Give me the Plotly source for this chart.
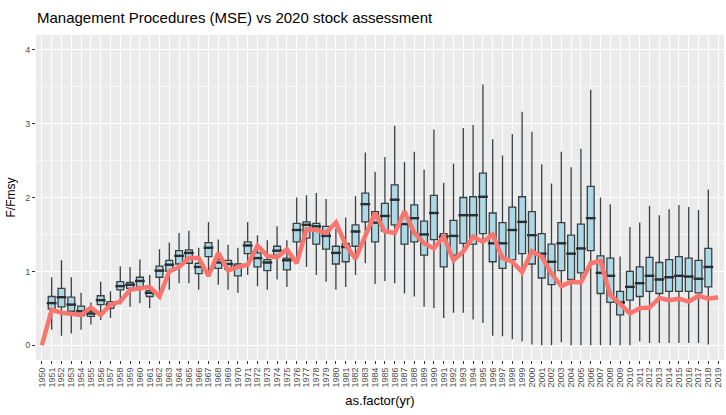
import plotly.graph_objects as go

# ---- data ----
years_all = [str(y) for y in range(1950, 2020)]
box_years = [str(y) for y in range(1951, 2019)]

lower = [0.21, 0.13, 0.16, 0.21, 0.28, 0.34, 0.37, 0.55, 0.52, 0.57,
         0.50, 0.68, 0.75, 0.84, 0.84, 0.75, 0.93, 0.82, 0.75, 0.71,
         0.95, 0.80, 0.75, 0.89, 0.79, 1.13, 1.06, 0.95, 0.86, 0.75,
         0.79, 0.95, 1.11, 0.83, 0.87, 0.84, 0.70, 0.66, 0.52, 0.50,
         0.37, 0.44, 0.44, 0.35, 0.30, 0.13, 0.12, 0.08, 0.05, 0.01,
         0.00, 0.00, 0.04, 0.00, 0.00, 0.00, 0.00, 0.00, 0.00, 0.00,
         0.05, 0.03, 0.03, 0.03, 0.03, 0.03, 0.03, 0.01]
q1 = [0.49, 0.52, 0.46, 0.40, 0.39, 0.55, 0.50, 0.75, 0.77, 0.79,
      0.66, 0.92, 1.00, 1.10, 1.11, 0.97, 1.20, 1.04, 1.03, 0.94,
      1.24, 1.06, 1.01, 1.22, 1.02, 1.40, 1.45, 1.37, 1.30, 1.10,
      1.13, 1.34, 1.67, 1.40, 1.55, 1.63, 1.37, 1.40, 1.22, 1.43,
      1.06, 1.22, 1.38, 1.37, 1.51, 1.13, 1.04, 1.16, 1.24, 1.10,
      0.91, 0.82, 1.01, 0.89, 0.98, 1.28, 0.70, 0.58, 0.41, 0.61,
      0.66, 0.73, 0.70, 0.73, 0.73, 0.73, 0.71, 0.79]
median = [0.57, 0.65, 0.55, 0.46, 0.43, 0.61, 0.55, 0.80, 0.82, 0.87,
          0.71, 1.01, 1.09, 1.21, 1.25, 1.06, 1.32, 1.12, 1.10, 1.07,
          1.35, 1.18, 1.12, 1.28, 1.15, 1.56, 1.63, 1.61, 1.48, 1.25,
          1.33, 1.54, 1.91, 1.66, 1.75, 1.97, 1.64, 1.72, 1.50, 1.79,
          1.47, 1.48, 1.76, 1.76, 2.01, 1.38, 1.38, 1.56, 1.67, 1.49,
          1.24, 1.13, 1.38, 1.24, 1.31, 1.72, 0.98, 0.94, 0.58, 0.79,
          0.84, 0.94, 0.89, 0.92, 0.94, 0.93, 0.90, 1.06]
q3 = [0.66, 0.77, 0.65, 0.53, 0.46, 0.67, 0.59, 0.86, 0.85, 0.92,
      0.74, 1.07, 1.15, 1.28, 1.29, 1.11, 1.39, 1.16, 1.15, 1.10,
      1.40, 1.25, 1.16, 1.34, 1.18, 1.65, 1.67, 1.65, 1.61, 1.34,
      1.38, 1.63, 2.06, 1.81, 1.92, 2.17, 1.74, 1.90, 1.68, 2.03,
      1.51, 1.69, 2.00, 2.01, 2.33, 1.79, 1.66, 1.87, 2.01, 1.81,
      1.51, 1.37, 1.66, 1.49, 1.64, 2.15, 1.21, 1.18, 0.73, 1.00,
      1.06, 1.19, 1.12, 1.16, 1.20, 1.18, 1.15, 1.31]
upper = [0.92, 1.15, 0.92, 0.71, 0.58, 0.86, 0.73, 1.07, 1.06, 1.16,
         0.95, 1.30, 1.39, 1.52, 1.55, 1.32, 1.67, 1.43, 1.36, 1.32,
         1.67, 1.49, 1.42, 1.61, 1.42, 2.00, 2.03, 2.06, 1.98, 1.58,
         1.73, 2.02, 2.61, 2.35, 2.55, 2.97, 2.48, 2.62, 2.38, 2.92,
         2.20, 2.46, 2.94, 2.98, 3.53, 2.79, 2.57, 2.86, 3.16, 2.89,
         2.45, 2.19, 2.62, 2.41, 2.66, 3.46, 2.00, 1.91, 1.20, 1.60,
         1.66, 1.89, 1.76, 1.84, 1.90, 1.87, 1.83, 2.11]

assessment = [0.00, 0.48, 0.44, 0.42, 0.41, 0.51, 0.41, 0.55, 0.59, 0.75,
              0.77, 0.79, 0.66, 1.00, 1.06, 1.18, 1.18, 0.94, 1.25, 1.01,
              1.06, 1.09, 1.35, 1.21, 1.19, 1.30, 1.11, 1.57, 1.56, 1.52,
              1.66, 1.36, 1.17, 1.47, 1.79, 1.54, 1.52, 1.81, 1.52, 1.38,
              1.31, 1.47, 1.15, 1.27, 1.47, 1.40, 1.50, 1.18, 1.13, 0.99,
              1.27, 1.20, 0.97, 0.80, 0.86, 0.85, 1.11, 1.14, 0.68, 0.56,
              0.43, 0.50, 0.51, 0.64, 0.61, 0.63, 0.59, 0.67, 0.63, 0.65]

y_ticks = [0, 1, 2, 3, 4]

FONT = "Liberation Sans, Arial, sans-serif"

fig = go.Figure()

fig.add_trace(go.Box(
    x=box_years, q1=q1, median=median, q3=q3,
    lowerfence=lower, upperfence=upper,
    boxpoints=False, whiskerwidth=0,
    fillcolor="#ADD8E6",
    line=dict(color="#3A3F42", width=1.3),
    showlegend=False, hoverinfo="skip",
))

fig.add_trace(go.Scatter(
    x=box_years, y=median, mode="markers",
    marker=dict(symbol="line-ew", size=7,
                line=dict(color="#2A2E30", width=2.4)),
    showlegend=False, hoverinfo="skip",
))

fig.add_trace(go.Scatter(
    x=years_all, y=assessment, mode="lines",
    line=dict(color="#F8766D", width=4.5),
    showlegend=False, hoverinfo="skip",
))

fig.update_layout(
    width=726, height=415,
    margin=dict(l=36, r=2, t=35, b=55),
    paper_bgcolor="white",
    plot_bgcolor="#EBEBEB",
    boxgap=0.3, boxgroupgap=0,
    font=dict(family=FONT, color="#4D4D4D"),
    title=dict(
        text="Management Procedures (MSE) vs 2020 stock assessment",
        font=dict(family=FONT, size=15, color="black"),
        xref="paper", x=0.0, xanchor="left",
        yref="container", y=1 - 18 / 415, yanchor="middle",
        pad=dict(l=1),
    ),
    xaxis=dict(
        type="category",
        categoryorder="array", categoryarray=years_all,
        tickmode="array", tickvals=years_all, ticktext=years_all,
        tickangle=-90,
        tickfont=dict(size=9, color="#4D4D4D"),
        ticks="outside", ticklen=3, tickcolor="#333333", tickwidth=1,
        showgrid=True, gridcolor="white", gridwidth=1,
        zeroline=False, showline=False,
        range=[-0.6, 69.6],
        automargin=False,
        title=dict(text="as.factor(yr)",
                   font=dict(family=FONT, size=13, color="black"),
                   standoff=9),
    ),
    yaxis=dict(
        range=[-0.2, 4.2],
        tickmode="array", tickvals=y_ticks,
        ticktext=[str(v) for v in y_ticks],
        tickfont=dict(size=9, color="#4D4D4D"),
        ticks="outside", ticklen=3, tickcolor="#333333", tickwidth=1,
        showgrid=True, gridcolor="white", gridwidth=1.1,
        minor=dict(tickmode="linear", tick0=0.5, dtick=1,
                   showgrid=True, gridcolor="#F7F7F7", gridwidth=0.6,
                   ticks=""),
        zeroline=False, showline=False,
        automargin=False,
        title=dict(text="F/Fmsy",
                   font=dict(family=FONT, size=12, color="black"),
                   standoff=6),
    ),
)

fig.write_html("out.html",
               config={"displayModeBar": False},
               post_script="document.body.style.margin='0';")
